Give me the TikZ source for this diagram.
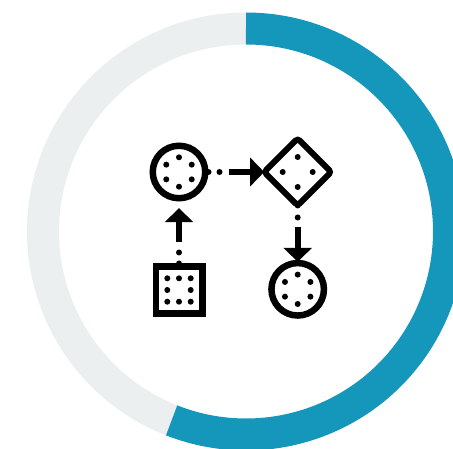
\documentclass[tikz,border=0pt]{standalone}
\usepackage{tikz}
\usetikzlibrary{arrows.meta,positioning,shapes.geometric}
\definecolor{RingBlue}{RGB}{21,150,187}
\definecolor{RingGrey}{RGB}{235,239,240}

\begin{document}
\begin{tikzpicture}[
    x=1pt, y=1pt,
    ring/.style={line width=32pt},
    roundbox/.style={draw, circle, line width=6.5pt, minimum size=52.5pt, inner sep=0pt},
    squarebox/.style={draw, rectangle, line width=6.5pt, minimum size=46.5pt, inner sep=0pt},
    diamondbox/.style={draw, diamond, aspect=1, line width=6pt, rounded corners=3pt, minimum size=67pt, inner sep=0pt, outer sep=0pt},
    dotlink/.style={line width=6pt, line cap=round, dash pattern=on 0pt off 11pt},
    arr/.style={-{Triangle[length=14pt, width=28pt]}, line width=6pt},
    node distance=55pt
]
    \clip (0,0) rectangle (453,448);
    \coordinate (ringc) at (246,216.5);
    \draw[ring, RingGrey] ([shift={(90:203)}]ringc) arc[start angle=90, end angle=248.5, radius=203];
    \draw[ring, RingBlue] ([shift={(90:203)}]ringc) arc[start angle=90, end angle=-111.5, radius=203];

    \node[roundbox] (first) at (179,276) {};
    \node[diamondbox, right=55.7pt of first] (choice) {};
    \node[squarebox, below=62pt of first] (start) {};
    \node[roundbox, below=54.3pt of choice] (last) {};

    % dots inside the shapes
    \foreach \n in {first,last}
        \foreach \a in {30,90,...,330}
            \fill (\n) ++(\a:14.7) circle[radius=3];
    \foreach \a in {0,90,180,270}
        \fill (choice) ++(\a:15) circle[radius=3];
    \foreach \i/\j in {-1/-1,0/-1,1/-1,-1/0,1/0,-1/1,0/1,1/1}
        \fill (start) ++(\i*11.7,\j*11.7) circle[radius=3];

    % connectors
    \coordinate[above=11.4pt of start.north] (up1);
    \coordinate[above=21pt of start.north] (up2);
    \coordinate[right=11.4pt of first.east] (over1);
    \coordinate[right=20pt of first.east] (over2);
    \coordinate[below=12.4pt of choice.south] (down1);
    \coordinate[below=22pt of choice.south] (down2);
    \draw[dotlink] (start.north) -- (up1);
    \draw[dotlink] (first.east) -- (over1);
    \draw[dotlink, dash pattern=on 0pt off 12pt] (choice.south) -- (down1);
    \draw[arr] (up2) -- ([yshift=-6.7pt]first.south);
    \draw[arr] (over2) -- (choice.west);
    \draw[arr] (down2) -- ([yshift=-2pt]last.north);
\end{tikzpicture}
\end{document}
